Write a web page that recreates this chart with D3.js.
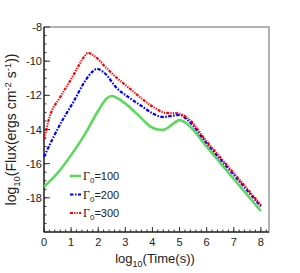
<!DOCTYPE html>
<html>
<head>
<meta charset="utf-8">
<script src="https://cdn.jsdelivr.net/npm/d3@7"></script>
<style>
  body { margin: 0; background: #fff; }
  text { font-family: "Liberation Sans Narrow", "Liberation Sans", Arial, sans-serif; }
</style>
</head>
<body>
<svg id="chart" width="300" height="273"></svg>
<script>
// log10(time) sample points and log10(flux) per Gamma_0
var tGreen = [0, 0.5, 1.0, 1.5, 2.0, 2.3, 2.5, 2.8, 3.2, 3.6, 3.9, 4.2, 4.4, 4.7, 5.0, 5.3, 6.0, 7.0, 8.0];
var fluxG100 = [-17.35, -16.55, -15.5, -14.3, -12.9, -12.2, -12.04, -12.25, -12.75, -13.35, -13.8, -14.0, -14.02, -13.75, -13.45, -13.7, -15.0, -16.9, -18.77];

var tBlue = [0, 0.3, 0.7, 1.1, 1.5, 1.8, 1.95, 2.2, 2.7, 3.2, 3.65, 4.0, 4.4, 4.7, 5.0, 5.3, 6.0, 7.0, 8.0];
var fluxG200 = [-15.6, -14.6, -13.4, -12.35, -11.2, -10.6, -10.45, -10.65, -11.6, -12.2, -12.68, -13.05, -13.27, -13.2, -13.15, -13.45, -14.8, -16.65, -18.5];

var tRed = [0, 0.2, 0.6, 1.0, 1.3, 1.5, 1.62, 1.9, 2.3, 2.7, 3.2, 3.65, 4.1, 4.5, 4.9, 5.3, 6.0, 7.0, 8.0];
var fluxG300 = [-14.6, -13.3, -12.1, -11.05, -10.2, -9.7, -9.52, -9.75, -10.4, -11.0, -11.65, -12.25, -12.75, -13.03, -13.05, -13.33, -14.7, -16.55, -18.42];

var legendLabels = ["100", "200", "300"];
var xTicks = [0, 1, 2, 3, 4, 5, 6, 7, 8];
var yTicks = [-18, -16, -14, -12, -10, -8];

var series = [
  { t: tGreen, f: fluxG100, color: "#5cd85c", dash: null, width: 2.6 },
  { t: tBlue, f: fluxG200, color: "#0000ff", dash: "3.5,1.5,1.5,1.5", width: 2.2 },
  { t: tRed, f: fluxG300, color: "#ff0000", dash: "3,1.2,1.2,1.2,1.2,1.2", width: 2.2 }
];

var svg = d3.select("#chart");
var mLeft = 44, mRight = 269, mTop = 27, mBottom = 232;

var xScale = d3.scaleLinear().domain([0, 8.3]).range([mLeft, mRight]);
var yScale = d3.scaleLinear().domain([-20, -8]).range([mBottom, mTop]);

// frame (top/right grey)
svg.append("rect")
  .attr("x", mLeft).attr("y", mTop)
  .attr("width", mRight - mLeft).attr("height", mBottom - mTop)
  .attr("fill", "none").attr("stroke", "#9a9a9a").attr("stroke-width", 1.5);

// minor ticks
var xMinor = d3.range(0, 8.3, 0.2);
var yMinor = d3.range(-20, -8, 0.5);

var ax = svg.append("g").attr("stroke", "#333").attr("stroke-width", 1);
ax.selectAll(".xminor").data(xMinor).enter().append("line")
  .attr("x1", function(d) { return xScale(d); }).attr("x2", function(d) { return xScale(d); })
  .attr("y1", mBottom).attr("y2", mBottom - 2.5);
ax.selectAll(".xmajor").data(xTicks).enter().append("line")
  .attr("x1", function(d) { return xScale(d); }).attr("x2", function(d) { return xScale(d); })
  .attr("y1", mBottom).attr("y2", mBottom - 5);
ax.selectAll(".yminor").data(yMinor).enter().append("line")
  .attr("x1", mLeft).attr("x2", mLeft + 2.5)
  .attr("y1", function(d) { return yScale(d); }).attr("y2", function(d) { return yScale(d); });
ax.selectAll(".ymajor").data(yTicks).enter().append("line")
  .attr("x1", mLeft).attr("x2", mLeft + 6)
  .attr("y1", function(d) { return yScale(d); }).attr("y2", function(d) { return yScale(d); });

// left & bottom axis lines
svg.append("line").attr("x1", mLeft).attr("x2", mLeft).attr("y1", mTop).attr("y2", mBottom)
  .attr("stroke", "#333").attr("stroke-width", 1.5);
svg.append("line").attr("x1", mLeft).attr("x2", mRight).attr("y1", mBottom).attr("y2", mBottom)
  .attr("stroke", "#333").attr("stroke-width", 1.5);

// tick labels
svg.selectAll(".xlab").data(xTicks).enter().append("text")
  .attr("x", function(d) { return xScale(d); }).attr("y", mBottom + 14)
  .attr("text-anchor", "middle").attr("font-size", 11).attr("fill", "#222")
  .text(function(d) { return d; });
svg.selectAll(".ylab").data(yTicks).enter().append("text")
  .attr("x", mLeft - 2).attr("y", function(d) { return yScale(d) + 4; })
  .attr("text-anchor", "end").attr("font-size", 11).attr("fill", "#222")
  .text(function(d) { return d; });

// curves
var line = d3.line()
  .x(function(d) { return xScale(d[0]); })
  .y(function(d) { return yScale(d[1]); })
  .curve(d3.curveMonotoneX);

series.forEach(function(s) {
  var pts = s.t.map(function(t, i) { return [t, s.f[i]]; });
  svg.append("path")
    .attr("d", line(pts))
    .attr("fill", "none")
    .attr("stroke", s.color)
    .attr("stroke-width", s.width)
    .attr("stroke-dasharray", s.dash);
});

// legend
var leg = svg.append("g");
legendLabels.forEach(function(lab, i) {
  var y = 176 + i * 18.5;
  var s = series[i];
  leg.append("line")
    .attr("x1", 70).attr("x2", 81).attr("y1", y).attr("y2", y)
    .attr("stroke", s.color).attr("stroke-width", s.width)
    .attr("stroke-dasharray", s.dash);
  var t = leg.append("text").attr("x", 83).attr("y", y + 4).attr("font-size", 11).attr("fill", "#222");
  t.append("tspan").attr("font-family", "'Liberation Serif', serif").attr("font-size", 12).text("Γ");
  t.append("tspan").attr("font-size", 8).attr("dy", 3).text("0");
  t.append("tspan").attr("dy", -3).text("=" + lab);
});

// axis titles
var xt = svg.append("text").attr("x", 155).attr("y", 263)
  .attr("text-anchor", "middle").attr("font-size", 13).attr("fill", "#222");
xt.append("tspan").text("log");
xt.append("tspan").attr("font-size", 9).attr("dy", 4).text("10");
xt.append("tspan").attr("dy", -4).text("(Time(s))");

var yt = svg.append("text")
  .attr("transform", "translate(16," + ((mTop + mBottom) / 2) + ") rotate(-90)")
  .attr("text-anchor", "middle").attr("font-size", 14).attr("fill", "#222");
yt.append("tspan").text("log");
yt.append("tspan").attr("font-size", 9.5).attr("dy", 4).text("10");
yt.append("tspan").attr("dy", -4).text("(Flux(ergs cm");
yt.append("tspan").attr("font-size", 9.5).attr("dy", -5).text("-2");
yt.append("tspan").attr("dy", 5).text(" s");
yt.append("tspan").attr("font-size", 9.5).attr("dy", -5).text("-1");
yt.append("tspan").attr("dy", 5).text("))");
</script>
</body>
</html>
